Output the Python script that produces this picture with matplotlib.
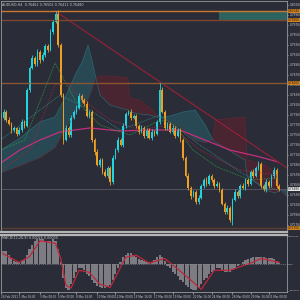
import numpy as np
import matplotlib
matplotlib.use('Agg')
import matplotlib.pyplot as plt
from matplotlib.transforms import blended_transform_factory

# AUDUSD H4 candles (close prices), open = previous close
first_open = 0.7796
closes = [0.7790, 0.7802, 0.7786, 0.7778, 0.7766, 0.7770, 0.7758, 0.7766, 0.7782, 0.7774,
          0.7846, 0.7890, 0.7910, 0.7898, 0.7922, 0.7906, 0.7916, 0.7934, 0.7926, 0.7962,
          0.7982, 0.7998, 0.7936, 0.7836, 0.7746, 0.7770, 0.7756, 0.7790, 0.7802, 0.7810,
          0.7834, 0.7826, 0.7818, 0.7794, 0.7802, 0.7746, 0.7722, 0.7696, 0.7706, 0.7682,
          0.7674, 0.7690, 0.7662, 0.7710, 0.7726, 0.7746, 0.7736, 0.7774, 0.7798, 0.7802,
          0.7790, 0.7794, 0.7774, 0.7762, 0.7770, 0.7754, 0.7766, 0.7750, 0.7762, 0.7758,
          0.7782, 0.7846, 0.7802, 0.7770, 0.7778, 0.7762, 0.7770, 0.7754, 0.7766, 0.7746,
          0.7710, 0.7674, 0.7650, 0.7634, 0.7642, 0.7622, 0.7630, 0.7654, 0.7666, 0.7658,
          0.7674, 0.7666, 0.7654, 0.7658, 0.7646, 0.7618, 0.7602, 0.7610, 0.7586, 0.7626,
          0.7642, 0.7634, 0.7654, 0.7650, 0.7666, 0.7658, 0.7682, 0.7674, 0.7690, 0.7698,
          0.7654, 0.7646, 0.7662, 0.7654, 0.7674, 0.7686, 0.7654, 0.7648]
# wick lengths in pips (0.0001)
wick_up = [4, 6, 3, 5, 3, 4, 2, 5, 6, 3, 4, 3, 5, 4, 6, 3, 5, 4, 3, 5,
           4, 6, 8, 3, 4, 6, 3, 5, 4, 6, 5, 3, 4, 6, 3, 4, 3, 5, 4, 3,
           5, 3, 4, 6, 3, 5, 4, 6, 3, 4, 5, 3, 4, 3, 5, 4, 3, 4, 5, 3,
           4, 14, 5, 3, 4, 3, 5, 3, 4, 3, 4, 3, 5, 3, 4, 3, 5, 4, 3, 5,
           4, 3, 4, 5, 3, 4, 3, 5, 3, 4, 5, 3, 4, 5, 3, 4, 3, 5, 4, 6,
           4, 3, 5, 4, 3, 5, 3, 4]
wick_dn = [3, 4, 5, 3, 6, 4, 5, 3, 4, 5, 3, 4, 3, 5, 4, 6, 3, 4, 5, 3,
           4, 3, 5, 4, 8, 3, 5, 4, 3, 4, 3, 5, 4, 3, 5, 4, 6, 3, 5, 4,
           3, 5, 6, 4, 3, 5, 3, 4, 5, 3, 4, 3, 5, 4, 3, 5, 4, 3, 4, 5,
           3, 4, 3, 5, 4, 3, 4, 5, 3, 4, 5, 3, 4, 6, 3, 5, 4, 3, 5, 4,
           3, 4, 5, 3, 4, 3, 5, 4, 4, 10, 3, 5, 4, 3, 5, 4, 3, 4, 3, 5,
           4, 3, 5, 4, 3, 4, 5, 4]

# Ichimoku cloud (span A / span B) at bar positions
cloud_x = [0, 7.3, 15, 20.8, 24.6, 28.5, 31.2, 33.5, 35, 36.5, 38.1, 41.9, 45.8, 48.8, 49.6,
           53.5, 57.3, 61.2, 65, 70, 74.6, 78.5, 81.5, 82.3, 93.8, 94.6, 101.5, 105.4, 107.3, 110]
span_a = [0.7726, 0.7750, 0.7782, 0.7792, 0.7830, 0.7876, 0.7902, 0.7936, 0.7906, 0.7870,
          0.7836, 0.7816, 0.7810, 0.7806, 0.7802, 0.7798, 0.7796, 0.7790, 0.7794, 0.7802,
          0.7806, 0.7776, 0.7746, 0.7742, 0.7706, 0.7676, 0.7646, 0.7640, 0.7646, 0.7646]
span_b = [0.7680, 0.7694, 0.7710, 0.7730, 0.7766, 0.7796, 0.7816, 0.7826, 0.7846, 0.7870,
          0.7874, 0.7874, 0.7872, 0.7870, 0.7830, 0.7826, 0.7810, 0.7790, 0.7782, 0.7766,
          0.7746, 0.7740, 0.7746, 0.7786, 0.7792, 0.7706, 0.7696, 0.7682, 0.7646, 0.7632]

# moving averages / bands
ma_slow_x = [0, 7.3, 15, 22.7, 34.2, 45.8, 57.3, 68.8, 76.5, 88, 99.6, 106.5]
ma_slow = [0.7700, 0.7726, 0.7746, 0.7762, 0.7770, 0.7764, 0.7766, 0.7766, 0.7750, 0.7726, 0.7712, 0.7702]
green_x = [0, 9.2, 20.8, 28.5, 38.1, 49.6, 61.2, 66.9, 73.8, 83.1, 95.8, 106.5]
green = [0.7726, 0.7746, 0.7900, 0.7826, 0.7776, 0.7756, 0.7786, 0.7776, 0.7726, 0.7692, 0.7666, 0.7670]
red_x = [0, 11.2, 20.8, 25.4, 31.5, 41.9, 53.5, 65, 76.5, 91.9, 106.5]
red = [0.7686, 0.7726, 0.7856, 0.7860, 0.7826, 0.7786, 0.7766, 0.7776, 0.7726, 0.7686, 0.7676]
teal_x = [0, 15, 22.7, 34.2, 45.8, 61.2, 76.5, 88, 99.6, 106.5]
teal = [0.7746, 0.7806, 0.7836, 0.7806, 0.7766, 0.7796, 0.7736, 0.7696, 0.7656, 0.7646]

# levels
trend_x = [20.8, 110]
trend_y = [0.8004, 0.7690]
levels = [0.8004, 0.7986, 0.7860, 0.7570]
level_colors = ['#c9782c', '#7a4630', '#8a5632', '#5e3e30']
bid = 0.7648

# MACD histogram (in 0.0001) and signal
macd_hist = [18, 21, 20, 15, 9, 5, 3, 3, 5, 6, 15, 24, 30, 35, 38, 39, 38, 36, 35, 36,
             38, 36, 24, 3, -21, -36, -39, -30, -20, -11, -6, -6, -9, -14, -18, -24, -29, -33, -35, -36,
             -36, -35, -32, -24, -15, -5, 3, 11, 15, 17, 17, 14, 11, 8, 6, 5, 3, 3, 3, 6,
             11, 14, 11, 5, -2, -6, -11, -15, -18, -23, -27, -32, -35, -38, -39, -39, -36, -30, -24, -20,
             -15, -11, -8, -6, -6, -9, -12, -12, -12, -9, -6, -3, 0, 3, 6, 8, 9, 11, 12, 12,
             11, 11, 9, 9, 9, 8, 5, 2]
sig_x = [0, 7, 11, 15, 21, 23, 25, 27, 30, 34, 38, 42, 48, 52, 57, 63, 71, 77, 82, 88, 96, 100, 107]
sig = [18, 3, 12, 36, 32, 9, -32, -36, -9, -12, -30, -35, 11, 14, 2, 9, -17, -38, -9, -9, 2, 9, 3]

date_pos = [0, 7, 15, 22, 29, 37, 44, 51, 59, 66, 74, 81, 89, 96, 103]
date_labels = ['26 Feb 2021', '1 Mar 16:00', '3 Mar 08:00', '5 Mar 00:00', '8 Mar 16:00',
               '10 Mar 08:00', '12 Mar 00:00', '15 Mar 16:00', '17 Mar 08:00', '19 Mar 00:00',
               '22 Mar 16:00', '24 Mar 08:00', '26 Mar 00:00', '29 Mar 16:00', '31 Mar 08:00']

bg = '#2a2c37'
fg = '#c8c8c8'
up_c = '#22d4de'
dn_c = '#f0a020'

fig = plt.figure(figsize=(3, 3), dpi=100, facecolor=bg)
ax = fig.add_axes([0.003, 0.2267, 0.954, 0.770], facecolor=bg)
ax2 = fig.add_axes([0.003, 0.0267, 0.954, 0.19], facecolor=bg)

n = len(closes)
idx = np.arange(n)
opens = [first_open] + closes[:-1]

# cloud
ca = np.array(span_a)
cb = np.array(span_b)
ax.fill_between(cloud_x, ca, cb, where=ca >= cb, interpolate=True, color='#26717a', alpha=0.42, lw=0)
ax.fill_between(cloud_x, ca, cb, where=ca < cb, interpolate=True, color='#5e1f2e', alpha=0.6, lw=0)
ax.plot(cloud_x, span_a, color='#2a7c84', lw=0.5, alpha=0.7)
ax.plot(cloud_x, span_b, color='#6e2832', lw=0.5, alpha=0.7)

# lines
ax.plot(ma_slow_x, ma_slow, color='#c4307c', lw=0.9)
ax.plot(green_x, green, color='#2f9a45', lw=0.6, ls=(0, (1, 1)))
ax.plot(red_x, red, color='#a0283a', lw=0.6, ls=(0, (1, 1)))
ax.plot(teal_x, teal, color='#2a8a8a', lw=0.6, ls=(0, (1, 1)))
ax.plot(trend_x, trend_y, color='#8e2238', lw=0.9)

for lv, c in zip(levels, level_colors):
    ax.axhline(lv, color=c, lw=1.0)
ax.axhline(bid, color='#585a66', lw=0.6)
ax.fill_between([83.8, 110.5], levels[1], levels[0], color='#2e7268', alpha=0.8, lw=0)

# candles
for i in range(n):
    o, c = opens[i], closes[i]
    col = up_c if c >= o else dn_c
    hi = max(o, c) + wick_up[i] * 0.0001
    lo = min(o, c) - wick_dn[i] * 0.0001
    ax.vlines(i, lo, hi, color=col, lw=0.6)
    ax.bar(i, max(abs(c - o), 0.00008), bottom=min(o, c), width=0.62, color=col, lw=0)

ax.set_xlim(0, 110)
ax.set_ylim(0.7562, 0.8024)
ax.yaxis.tick_right()
ticks = [0.8016 - 0.002 * k for k in range(23)]
ax.set_yticks(ticks)
ax.set_yticklabels(['%.5f' % t for t in ticks])
ax.tick_params(axis='y', labelsize=2.1, colors=fg, length=1, pad=0.6, width=0.5)
ax.set_xticks([])
for s in ax.spines.values():
    s.set_color('#9a9a9a')
    s.set_linewidth(0.6)
ax.spines['bottom'].set_linewidth(1.6)
ax.spines['bottom'].set_color('#b4b4b4')

tr = blended_transform_factory(ax.transAxes, ax.transData)
for lv in levels:
    ax.text(1.003, lv, '%.5f' % lv, transform=tr, fontsize=2.1, color='#1a1a1a', va='center',
            bbox=dict(boxstyle='square,pad=0.15', fc='#d4821e', ec='none'))
ax.text(1.003, bid, '%.5f' % bid, transform=tr, fontsize=2.1, color='#1a1a1a', va='center',
        bbox=dict(boxstyle='square,pad=0.15', fc='#e6e6e6', ec='none'))
ax.text(0.005, 0.993, 'AUDUSD,H4  0.76462 0.76502 0.76411 0.76480', transform=ax.transAxes,
        fontsize=2.4, color=fg, va='top', ha='left')

# MACD
ax2.bar(idx, np.array(macd_hist) * 0.0001, width=0.85, color='#7c7c82', lw=0)
ax2.plot(sig_x, np.array(sig) * 0.0001, color='#c0283a', lw=0.9)
ax2.axhline(0, color='#8a8a8a', lw=0.5, ls=(0, (1.5, 1.5)))
ax2.set_xlim(0, 110)
ax2.set_ylim(-0.0042, 0.00448)
ax2.yaxis.tick_right()
ax2.set_yticks([0.0043, 0, -0.0040])
ax2.set_yticklabels(['0.004479', '0.00', '-0.004199'])
ax2.tick_params(axis='y', labelsize=1.5, colors=fg, length=0.8, pad=0.4, width=0.5)
ax2.set_xticks(date_pos)
ax2.set_xticklabels(date_labels, ha='left')
ax2.tick_params(axis='x', labelsize=2.0, colors=fg, length=1.5, pad=1, width=0.5)
for s in ax2.spines.values():
    s.set_color('#9a9a9a')
    s.set_linewidth(0.6)
ax2.spines['top'].set_linewidth(1.6)
ax2.spines['top'].set_color('#b4b4b4')
ax2.text(0.005, 0.985, 'MACD(12,26,9) 0.00026 0.00030', transform=ax2.transAxes,
         fontsize=2.4, color=fg, va='top', ha='left')

fig.savefig('out.png', dpi=100, facecolor=bg)
